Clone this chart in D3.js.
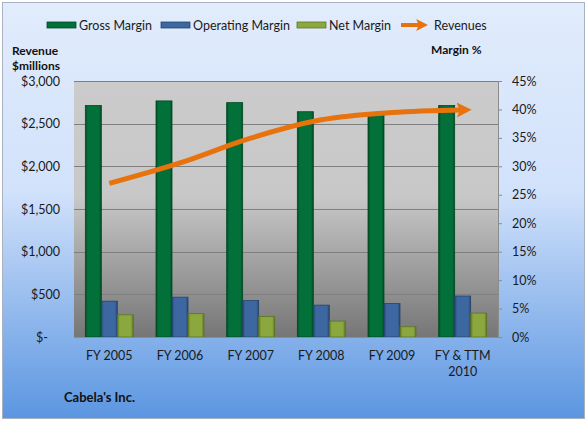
<!DOCTYPE html>
<html><head><meta charset="utf-8">
<script src="https://cdn.jsdelivr.net/npm/d3@7"></script>
<style>html,body{margin:0;padding:0;background:#fff;}svg{display:block;font-family:Lato,"Open Sans",sans-serif;}</style>
</head><body>
<svg id="c" width="588" height="422"></svg>
<script>
const categories = [["FY 2005"],["FY 2006"],["FY 2007"],["FY 2008"],["FY 2009"],["FY & TTM","2010"]];
const grossMargin = [40.7, 41.5, 41.2, 39.6, 39.0, 40.7];
const operatingMargin = [6.3, 7.0, 6.4, 5.6, 5.9, 7.2];
const netMargin = [3.9, 4.1, 3.6, 2.8, 1.8, 4.2];
const revenues = [1800, 2040, 2330, 2545, 2630, 2660];
const leftTicks = [0, 500, 1000, 1500, 2000, 2500, 3000];
const rightTicks = [0, 5, 10, 15, 20, 25, 30, 35, 40, 45];
const seriesNames = ["Gross Margin", "Operating Margin", "Net Margin"];
const seriesColors = ["#03703a", "#3c67a1", "#8aa83e"];
const seriesEdge = ["#014a24", "#27456f", "#5d7326"];
const lineColor = "#e8720c";

const svg = d3.select("#c");
const defs = svg.append("defs");
const bg = defs.append("linearGradient").attr("id","bg").attr("x1",0).attr("y1",0).attr("x2",0).attr("y2",1);
bg.append("stop").attr("offset","0%").attr("stop-color","#e1ecfc");
bg.append("stop").attr("offset","45%").attr("stop-color","#d2e2fb");
bg.append("stop").attr("offset","100%").attr("stop-color","#5b96e1");
const pg = defs.append("linearGradient").attr("id","pg").attr("x1",0).attr("y1",0).attr("x2",0).attr("y2",1);
pg.append("stop").attr("offset","0%").attr("stop-color","#cbcbcb");
pg.append("stop").attr("offset","45%").attr("stop-color","#c8c8c8");
pg.append("stop").attr("offset","100%").attr("stop-color","#767676");
seriesColors.forEach((c,i)=>{
  const g = defs.append("linearGradient").attr("id","bar"+i).attr("x1",0).attr("y1",0).attr("x2",1).attr("y2",0);
  g.append("stop").attr("offset","0%").attr("stop-color",seriesEdge[i]);
  g.append("stop").attr("offset","15%").attr("stop-color",c);
  g.append("stop").attr("offset","85%").attr("stop-color",c);
  g.append("stop").attr("offset","100%").attr("stop-color",seriesEdge[i]);
});
defs.append("marker").attr("id","arrow").attr("viewBox","0 0 10 10").attr("refX",4).attr("refY",5)
  .attr("markerWidth",3).attr("markerHeight",3).attr("orient","auto").attr("markerUnits","strokeWidth")
  .append("path").attr("d","M0,0 L10,5 L0,10 L2,5 z").attr("fill",lineColor);

svg.append("rect").attr("x",2.5).attr("y",2.5).attr("width",582).attr("height",416)
  .attr("fill","url(#bg)").attr("stroke","#a9b2c0").attr("stroke-width",1);

const m = {l:74, r:498, t:81, b:337};
const x = d3.scaleBand().domain(d3.range(categories.length)).range([m.l, m.r]);
const yL = d3.scaleLinear().domain([0,3000]).range([m.b, m.t]);
const yR = d3.scaleLinear().domain([0,45]).range([m.b, m.t]);

svg.append("rect").attr("x",m.l).attr("y",m.t).attr("width",m.r-m.l).attr("height",m.b-m.t).attr("fill","url(#pg)");

// gridlines
svg.append("g").selectAll("line").data(leftTicks.slice(1)).join("line")
  .attr("x1",m.l).attr("x2",m.r).attr("y1",d=>Math.round(yL(d))+0.5).attr("y2",d=>Math.round(yL(d))+0.5)
  .attr("stroke","#7f7f7f").attr("stroke-width",1);

// bars
const bw = 16;
const series = [grossMargin, operatingMargin, netMargin];
series.forEach((vals,si)=>{
  svg.append("g").selectAll("rect").data(vals).join("rect")
    .attr("x",(d,i)=>x(i)+x.bandwidth()/2 - 1.5*bw + si*bw)
    .attr("y",d=>yR(d)).attr("width",bw).attr("height",d=>m.b-yR(d))
    .attr("fill","url(#bar"+si+")").attr("stroke",seriesEdge[si]).attr("stroke-width",0.8);
});

// bottom axis line
svg.append("line").attr("x1",m.l).attr("x2",m.r).attr("y1",m.b+0.5).attr("y2",m.b+0.5).attr("stroke","#8c8c8c");

// right axis
const ra = svg.append("g").attr("transform",`translate(${m.r},0)`)
  .call(d3.axisRight(yR).tickValues(rightTicks).tickFormat(d=>d+"%").tickSize(4).tickPadding(10));
ra.select(".domain").attr("stroke","#8c8c8c");
ra.selectAll(".tick line").attr("stroke","#8c8c8c");
ra.selectAll("text").attr("font-size",12.5).attr("fill","#1a1a1a").attr("font-family","Lato,sans-serif");

// left axis
const la = svg.append("g").attr("transform",`translate(${m.l},0)`)
  .call(d3.axisLeft(yL).tickValues(leftTicks).tickFormat(d=>d===0?"$-":"$"+d3.format(",")(d)).tickSize(0).tickPadding(14));
la.select(".domain").remove();
la.selectAll("text").attr("font-size",12.5).attr("fill","#1a1a1a").attr("font-family","Lato,sans-serif");
la.selectAll(".tick").filter(d=>d===0).select("text").attr("dx",-12);

// x labels
const xl = svg.append("g").selectAll("text").data(categories).join("text")
  .attr("x",(d,i)=>x(i)+x.bandwidth()/2).attr("y",360).attr("text-anchor","middle")
  .attr("font-size",12.5).attr("fill","#1a1a1a");
xl.selectAll("tspan").data(d=>d).join("tspan").attr("x",function(){return this.parentNode.getAttribute("x");})
  .attr("dy",(d,i)=>i===0?0:16).text(d=>d);

// revenue line
const line = d3.line().x((d,i)=>x(i)+x.bandwidth()/2).y(d=>yL(d)).curve(d3.curveMonotoneX);
svg.append("path").datum(revenues).attr("d",line).attr("fill","none").attr("stroke",lineColor)
  .attr("stroke-width",5).attr("marker-end","url(#arrow)");

// axis titles
svg.append("text").attr("x",12).attr("y",55).attr("font-size",12).attr("font-weight","bold").attr("fill","#111").text("Revenue");
svg.append("text").attr("x",12).attr("y",70).attr("font-size",12).attr("font-weight","bold").attr("fill","#111").text("$millions");
svg.append("text").attr("x",431).attr("y",54).attr("font-size",12).attr("font-weight","bold").attr("fill","#111").text("Margin %");
svg.append("text").attr("x",64).attr("y",402).attr("font-size",13).attr("font-weight","bold").attr("fill","#111").text("Cabela's Inc.");

// legend
const legendItems = [
  {name:seriesNames[0], x:47, type:"bar", i:0},
  {name:seriesNames[1], x:161, type:"bar", i:1},
  {name:seriesNames[2], x:297, type:"bar", i:2},
  {name:"Revenues", x:401, type:"line"}
];
const lg = svg.append("g").selectAll("g").data(legendItems).join("g").attr("transform",d=>`translate(${d.x},25)`);
lg.filter(d=>d.type==="bar").append("rect").attr("x",0).attr("y",-3).attr("width",29).attr("height",6)
  .attr("fill",d=>seriesColors[d.i]).attr("stroke",d=>seriesEdge[d.i]).attr("stroke-width",0.8);
lg.filter(d=>d.type==="line").append("path").attr("d","M0,0 L20,0").attr("stroke",lineColor).attr("stroke-width",4)
  .attr("marker-end","url(#arrow)");
lg.append("text").attr("x",d=>d.type==="line"?33:32).attr("y",4.5).attr("font-size",12.5).attr("fill","#1a1a1a").text(d=>d.name);
</script>
</body></html>
